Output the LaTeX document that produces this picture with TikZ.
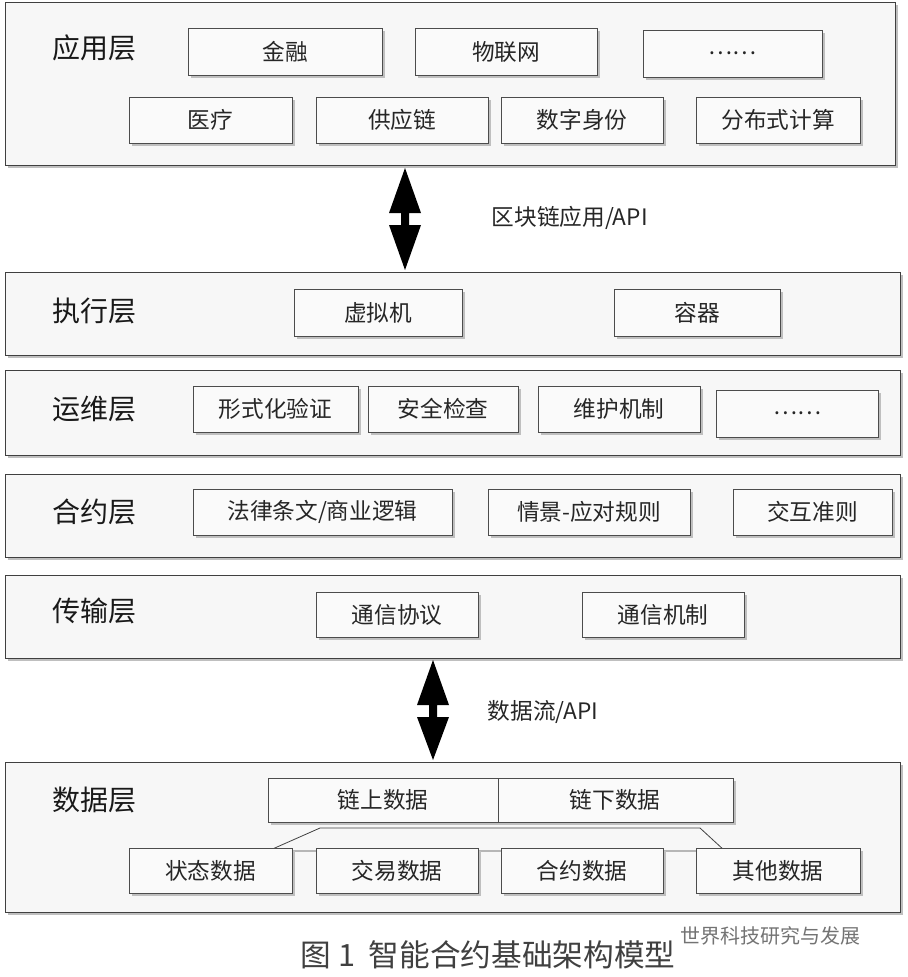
\documentclass[tikz,border=0pt]{standalone}
\usepackage{fontspec}
\setmainfont{Noto Sans CJK SC}
\begin{document}
\begin{tikzpicture}[x=0.75pt,y=-0.75pt,
  layer/.style={draw=black!75,line width=0.6pt,fill=black!3},
  sh/.style={fill=black!25,draw=none},
  bx/.style={draw=black!70,line width=0.6pt,fill=black!2},
  ttl/.style={font=\fontsize{21}{24}\selectfont,anchor=west,text=black!90},
  lbl/.style={font=\fontsize{17}{20}\selectfont,text=black!85}]
\useasboundingbox (0,0) rectangle (907,977);
\newcommand{\ibox}[6]{%
  \fill[sh] (#2+3,#3+3) rectangle (#4+3,#5+3);
  \draw[bx] (#2,#3) rectangle (#4,#5);
  \node[lbl] (#1) at ({(#2+#4)/2},{(#3+#5)/2}) {#6};}
% layers
\fill[sh] (8,5) rectangle (898,168); \draw[layer] (5,2) rectangle (895,165);
\node[ttl] (t1) at (48,48) {应用层};
\fill[sh] (8,275) rectangle (903,358); \draw[layer] (5,272) rectangle (900,355);
\node[ttl] (t2) at (48,311) {执行层};
\fill[sh] (8,373) rectangle (903,458); \draw[layer] (5,370) rectangle (900,455);
\node[ttl] (t3) at (48,409) {运维层};
\fill[sh] (8,477) rectangle (903,560); \draw[layer] (5,474) rectangle (900,557);
\node[ttl] (t4) at (48,512) {合约层};
\fill[sh] (8,578) rectangle (903,661); \draw[layer] (5,575) rectangle (900,658);
\node[ttl] (t5) at (48,611) {传输层};
\fill[sh] (8,765) rectangle (903,915); \draw[layer] (5,762) rectangle (900,912);
\node[ttl] (t6) at (48,800) {数据层};
% app
\ibox{a1}{188}{28}{382}{75}{金融}
\ibox{a2}{415}{28}{597}{75}{物联网}
\ibox{a3}{643}{30}{822}{77}{……}
\ibox{a4}{129}{97}{292}{143}{医疗}
\ibox{a5}{316}{97}{488}{143}{供应链}
\ibox{a6}{501}{97}{663}{143}{数字身份}
\ibox{a7}{696}{97}{860}{143}{分布式计算}
% exec
\ibox{e1}{294}{289}{462}{336}{虚拟机}
\ibox{e2}{614}{289}{780}{336}{容器}
% ops
\ibox{o1}{193}{386}{358}{432}{形式化验证}
\ibox{o2}{368}{386}{518}{432}{安全检查}
\ibox{o3}{538}{386}{700}{432}{维护机制}
\ibox{o4}{716}{390}{878}{437}{……}
% contract
\ibox{c1}{193}{489}{452}{535}{法律条文/商业逻辑}
\ibox{c2}{488}{489}{690}{535}{情景-应对规则}
\ibox{c3}{733}{489}{892}{535}{交互准则}
% transport
\ibox{r1}{316}{592}{478}{637}{通信协议}
\ibox{r2}{582}{592}{744}{637}{通信机制}
% data
\fill[sh] (271,781) rectangle (736,825);
\draw[bx] (268,778) rectangle (733,822);
\draw[black!70,line width=0.6pt] (498,778) -- (498,822);
\node[lbl] (d1) at (383,800) {链上数据};
\node[lbl] (d2) at (615,800) {链下数据};
\draw[black!75,line width=0.6pt] (268,851) -- (320,828) -- (700,828) -- (725,851) -- cycle;
\ibox{b1}{129}{848}{292}{893}{状态数据}
\ibox{b2}{316}{848}{478}{893}{交易数据}
\ibox{b3}{501}{848}{663}{893}{合约数据}
\ibox{b4}{696}{848}{860}{893}{其他数据}
% arrows
\fill[black] (405,168) -- (421,213) -- (409,213) -- (409,225) -- (421,225) -- (405,270) -- (389,225) -- (401,225) -- (401,213) -- (389,213) -- cycle;
\node[lbl,anchor=west] (l1) at (487,218) {区块链应用/API};
\fill[black] (433,660) -- (449,705) -- (437,705) -- (437,717) -- (449,717) -- (433,760) -- (417,717) -- (429,717) -- (429,705) -- (417,705) -- cycle;
\node[lbl,anchor=west] (l2) at (483,712) {数据流/API};
% caption
\node[font=\fontsize{23}{26}\selectfont,text=black!75] (cap) at (488,955) {图 1\ \ 智能合约基础架构模型};
\node[font=\fontsize{15}{17}\selectfont,text=black!55,anchor=west] (wm) at (676,936) {世界科技研究与发展};
\end{tikzpicture}
\end{document}
